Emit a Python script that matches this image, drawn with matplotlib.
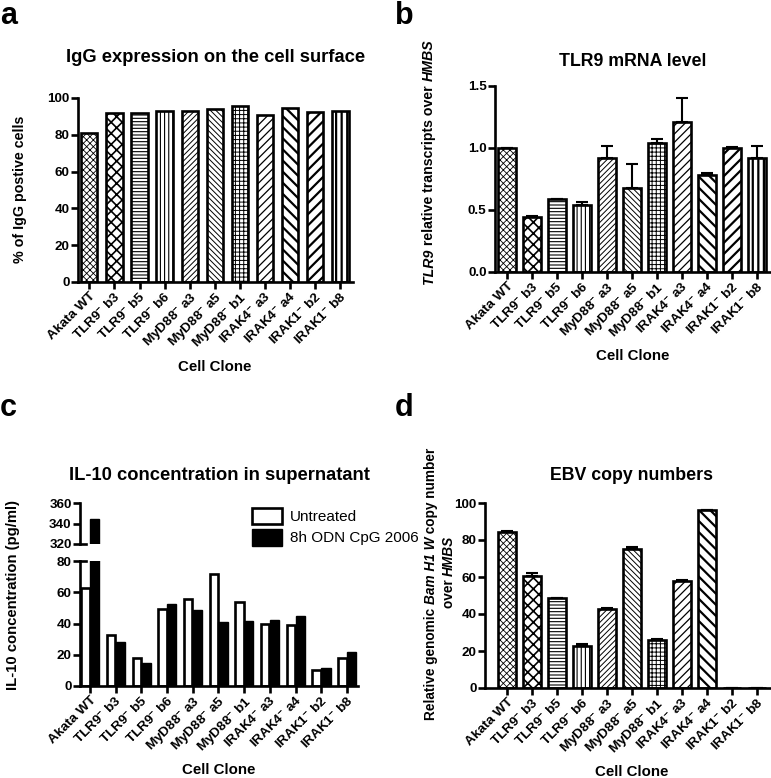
import numpy as np
import matplotlib
matplotlib.use("Agg")
import matplotlib.pyplot as plt
from matplotlib.patches import Patch

plt.rcParams['font.family'] = ['Liberation Sans', 'DejaVu Sans']
plt.rcParams['font.weight'] = 'bold'
plt.rcParams['mathtext.fontset'] = 'custom'
plt.rcParams['mathtext.rm'] = 'Liberation Sans:bold'
plt.rcParams['mathtext.it'] = 'Liberation Sans:bold:italic'
plt.rcParams['mathtext.bf'] = 'Liberation Sans:bold'
plt.rcParams['hatch.linewidth'] = 0.8

# ---- data ----
clones = ["Akata WT", "TLR9$^{-}$ b3", "TLR9$^{-}$ b5", "TLR9$^{-}$ b6",
          "MyD88$^{-}$ a3", "MyD88$^{-}$ a5", "MyD88$^{-}$ b1",
          "IRAK4$^{-}$ a3", "IRAK4$^{-}$ a4", "IRAK1$^{-}$ b2", "IRAK1$^{-}$ b8"]

igg_pos = [81, 92, 92, 93, 93, 94, 95.5, 90.5, 94.5, 92.5, 93]

tlr9_mrna = [1.0, 0.445, 0.585, 0.54, 0.92, 0.68, 1.04, 1.21, 0.785, 1.0, 0.92]
tlr9_err = [0.0, 0.008, 0.006, 0.022, 0.095, 0.19, 0.03, 0.19, 0.012, 0.008, 0.095]

il10_untreated = [63, 32.5, 18, 49.5, 56, 72, 54, 39.5, 39, 10, 18]
il10_cpg = [344, 28, 14.5, 52.5, 48.5, 41, 41.5, 42, 44.5, 11.5, 22]

ebv_copies = [84.2, 60.7, 48.5, 22.5, 42.8, 75.3, 26.2, 58.0, 96.2, 0, 0]
ebv_err = [0.4, 1.2, 0.3, 1.2, 0.3, 0.8, 0.3, 0.6, 0.2, 0, 0]

hatches = ['xxxxx', 'xxx', '-----', '||||', '//////', '\\\\\\\\\\\\',
           '++++', '////', '\\\\\\', '///', '|||']
hatch_lw = [0.6, 1.2, 0.8, 0.8, 0.7, 0.7, 0.7, 0.9, 1.6, 1.6, 1.6]

W, H = 771, 778
fig = plt.figure(figsize=(W / 100, H / 100), dpi=100)
renderer = fig.canvas.get_renderer()


def box(l, r, b, t):
    return [l / W, 1 - b / H, (r - l) / W, (b - t) / H]


def style_axis(ax, xticks=True):
    for s in ['top', 'right']:
        ax.spines[s].set_visible(False)
    for s in ['left', 'bottom']:
        ax.spines[s].set_linewidth(1.9)
    ax.tick_params(width=1.9, length=5, labelsize=9.7, pad=1)
    if xticks:
        ax.set_xticks(range(len(clones)))
        ax.set_xticklabels(clones, rotation=45, ha='right', rotation_mode='anchor',
                           fontsize=9.7, fontweight='bold')


def hatched_bars(ax, vals, width=0.68, err=None):
    x = np.arange(len(vals))
    bars = ax.bar(x, vals, width=width, color='white', edgecolor='black', linewidth=1.9, zorder=2)
    for b, h, lw in zip(bars, hatches, hatch_lw):
        b.set_hatch(h)
        try:
            b.set_hatch_linewidth(lw)
        except AttributeError:
            pass
    if err is not None:
        ax.errorbar(x, vals, yerr=[np.zeros(len(vals)), err], fmt='none', ecolor='black',
                    elinewidth=1.5, capsize=4, capthick=1.5, zorder=3)
    return bars


def vlabel(xpix, ypix, parts, size):
    # parts: list of (text, italic) drawn bottom-to-top, centred on ypix
    widths = []
    for s, it in parts:
        t = fig.text(0, 0, s, fontsize=size, fontweight='bold',
                     fontstyle='italic' if it else 'normal')
        widths.append(t.get_window_extent(renderer).width)
        t.remove()
    y0 = (H - ypix) - sum(widths) / 2
    for (s, it), w in zip(parts, widths):
        fig.text(xpix / W, y0 / H, s, ha='left', va='center', rotation=90,
                 rotation_mode='anchor', fontsize=size, fontweight='bold',
                 fontstyle='italic' if it else 'normal')
        y0 += w


# ---- a ----
ax_a = fig.add_axes(box(78, 353, 282, 98))
hatched_bars(ax_a, igg_pos, width=0.65)
ax_a.set_ylim(0, 100)
ax_a.set_xlim(-0.45, 10.5)
ax_a.set_yticks([0, 20, 40, 60, 80, 100])
style_axis(ax_a)
vlabel(20, 189, [("% of IgG postive cells", False)], 10.3)
fig.text(216 / W, 1 - 58 / H, "IgG expression on the cell surface", ha='center', va='center',
         fontsize=13.2, fontweight='bold')
fig.text(215 / W, 1 - 367 / H, "Cell Clone", ha='center', va='center', fontsize=10.8, fontweight='bold')
fig.text(0.0 / W, 1 - 16 / H, "a", ha='left', va='center', fontsize=22, fontweight='bold')

# ---- b ----
ax_b = fig.add_axes(box(495, 771, 272, 86))
hatched_bars(ax_b, tlr9_mrna, width=0.72, err=tlr9_err)
ax_b.set_ylim(0, 1.5)
ax_b.set_xlim(-0.48, 10.56)
ax_b.set_yticks([0, 0.5, 1.0, 1.5])
ax_b.set_yticklabels(["0.0", "0.5", "1.0", "1.5"])
style_axis(ax_b)
vlabel(429, 162, [("TLR9", True), (" relative transcripts over ", False), ("HMBS", True)], 10.2)
fig.text(633 / W, 1 - 62 / H, "TLR9 mRNA level", ha='center', va='center',
         fontsize=12.8, fontweight='bold')
fig.text(633 / W, 1 - 356 / H, "Cell Clone", ha='center', va='center', fontsize=10.8, fontweight='bold')
fig.text(395 / W, 1 - 16 / H, "b", ha='left', va='center', fontsize=22, fontweight='bold')

# ---- c (broken axis) ----
ax_c = fig.add_axes(box(80, 358, 686, 561))
ax_cu = fig.add_axes(box(80, 358, 544, 503), sharex=ax_c)
x = np.arange(len(clones))
off = 0.18
for ax in (ax_c, ax_cu):
    ax.bar(x - off, il10_untreated, width=0.33, color='white', edgecolor='black', linewidth=1.9)
    ax.bar(x + off, il10_cpg, width=0.36, color='black', edgecolor='black', linewidth=1.0)
ax_c.set_ylim(0, 80)
ax_cu.set_ylim(320, 360)
ax_c.set_xlim(-0.39, 10.43)
ax_c.set_yticks([0, 20, 40, 60, 80])
ax_cu.set_yticks([320, 340, 360])
style_axis(ax_c)
style_axis(ax_cu, xticks=False)
ax_cu.spines['bottom'].set_visible(False)
ax_cu.tick_params(axis='x', bottom=False, labelbottom=False)
# break marks
ax_c.plot([0, 0.02], [1, 1], transform=ax_c.transAxes, color='black', lw=1.9, clip_on=False)
ax_cu.plot([0, 0.02], [0, 0], transform=ax_cu.transAxes, color='black', lw=1.9, clip_on=False)
vlabel(13, 595, [("IL-10 concentration (pg/ml)", False)], 10.7)
fig.text(219 / W, 1 - 475 / H, "IL-10 concentration in supernatant", ha='center', va='center',
         fontsize=13.2, fontweight='bold')
fig.text(219 / W, 1 - 770 / H, "Cell Clone", ha='center', va='center', fontsize=10.8, fontweight='bold')
fig.text(0 / W, 1 - 408 / H, "c", ha='left', va='center', fontsize=22, fontweight='bold')
handles = [Patch(facecolor='white', edgecolor='black', linewidth=1.9, label='Untreated'),
           Patch(facecolor='black', edgecolor='black', label='8h ODN CpG 2006')]
fig.legend(handles=handles, loc='upper left', bbox_to_anchor=(244 / W, 1 - 500 / H),
           frameon=False, prop={'weight': 'normal', 'size': 11}, handlelength=2.0,
           handleheight=1.3, handletextpad=0.5, labelspacing=0.3, borderpad=0)

# ---- d ----
ax_d = fig.add_axes(box(485, 771, 688, 503))
hatched_bars(ax_d, ebv_copies, width=0.72, err=ebv_err)
ax_d.set_ylim(0, 100)
ax_d.set_xlim(-0.88, 10.56)
ax_d.set_yticks([0, 20, 40, 60, 80, 100])
style_axis(ax_d)
# two-line y label
vlabel(431, 584, [("Relative genomic ", False), ("Bam H1 W", True), (" copy number", False)], 9.8)
vlabel(449, 572, [("over ", False), ("HMBS", True)], 9.8)
fig.text(632 / W, 1 - 475 / H, "EBV copy numbers", ha='center', va='center',
         fontsize=12.8, fontweight='bold')
fig.text(632 / W, 1 - 772 / H, "Cell Clone", ha='center', va='center', fontsize=10.8, fontweight='bold')
fig.text(395 / W, 1 - 408 / H, "d", ha='left', va='center', fontsize=22, fontweight='bold')

fig.savefig("out.png", dpi=100)
